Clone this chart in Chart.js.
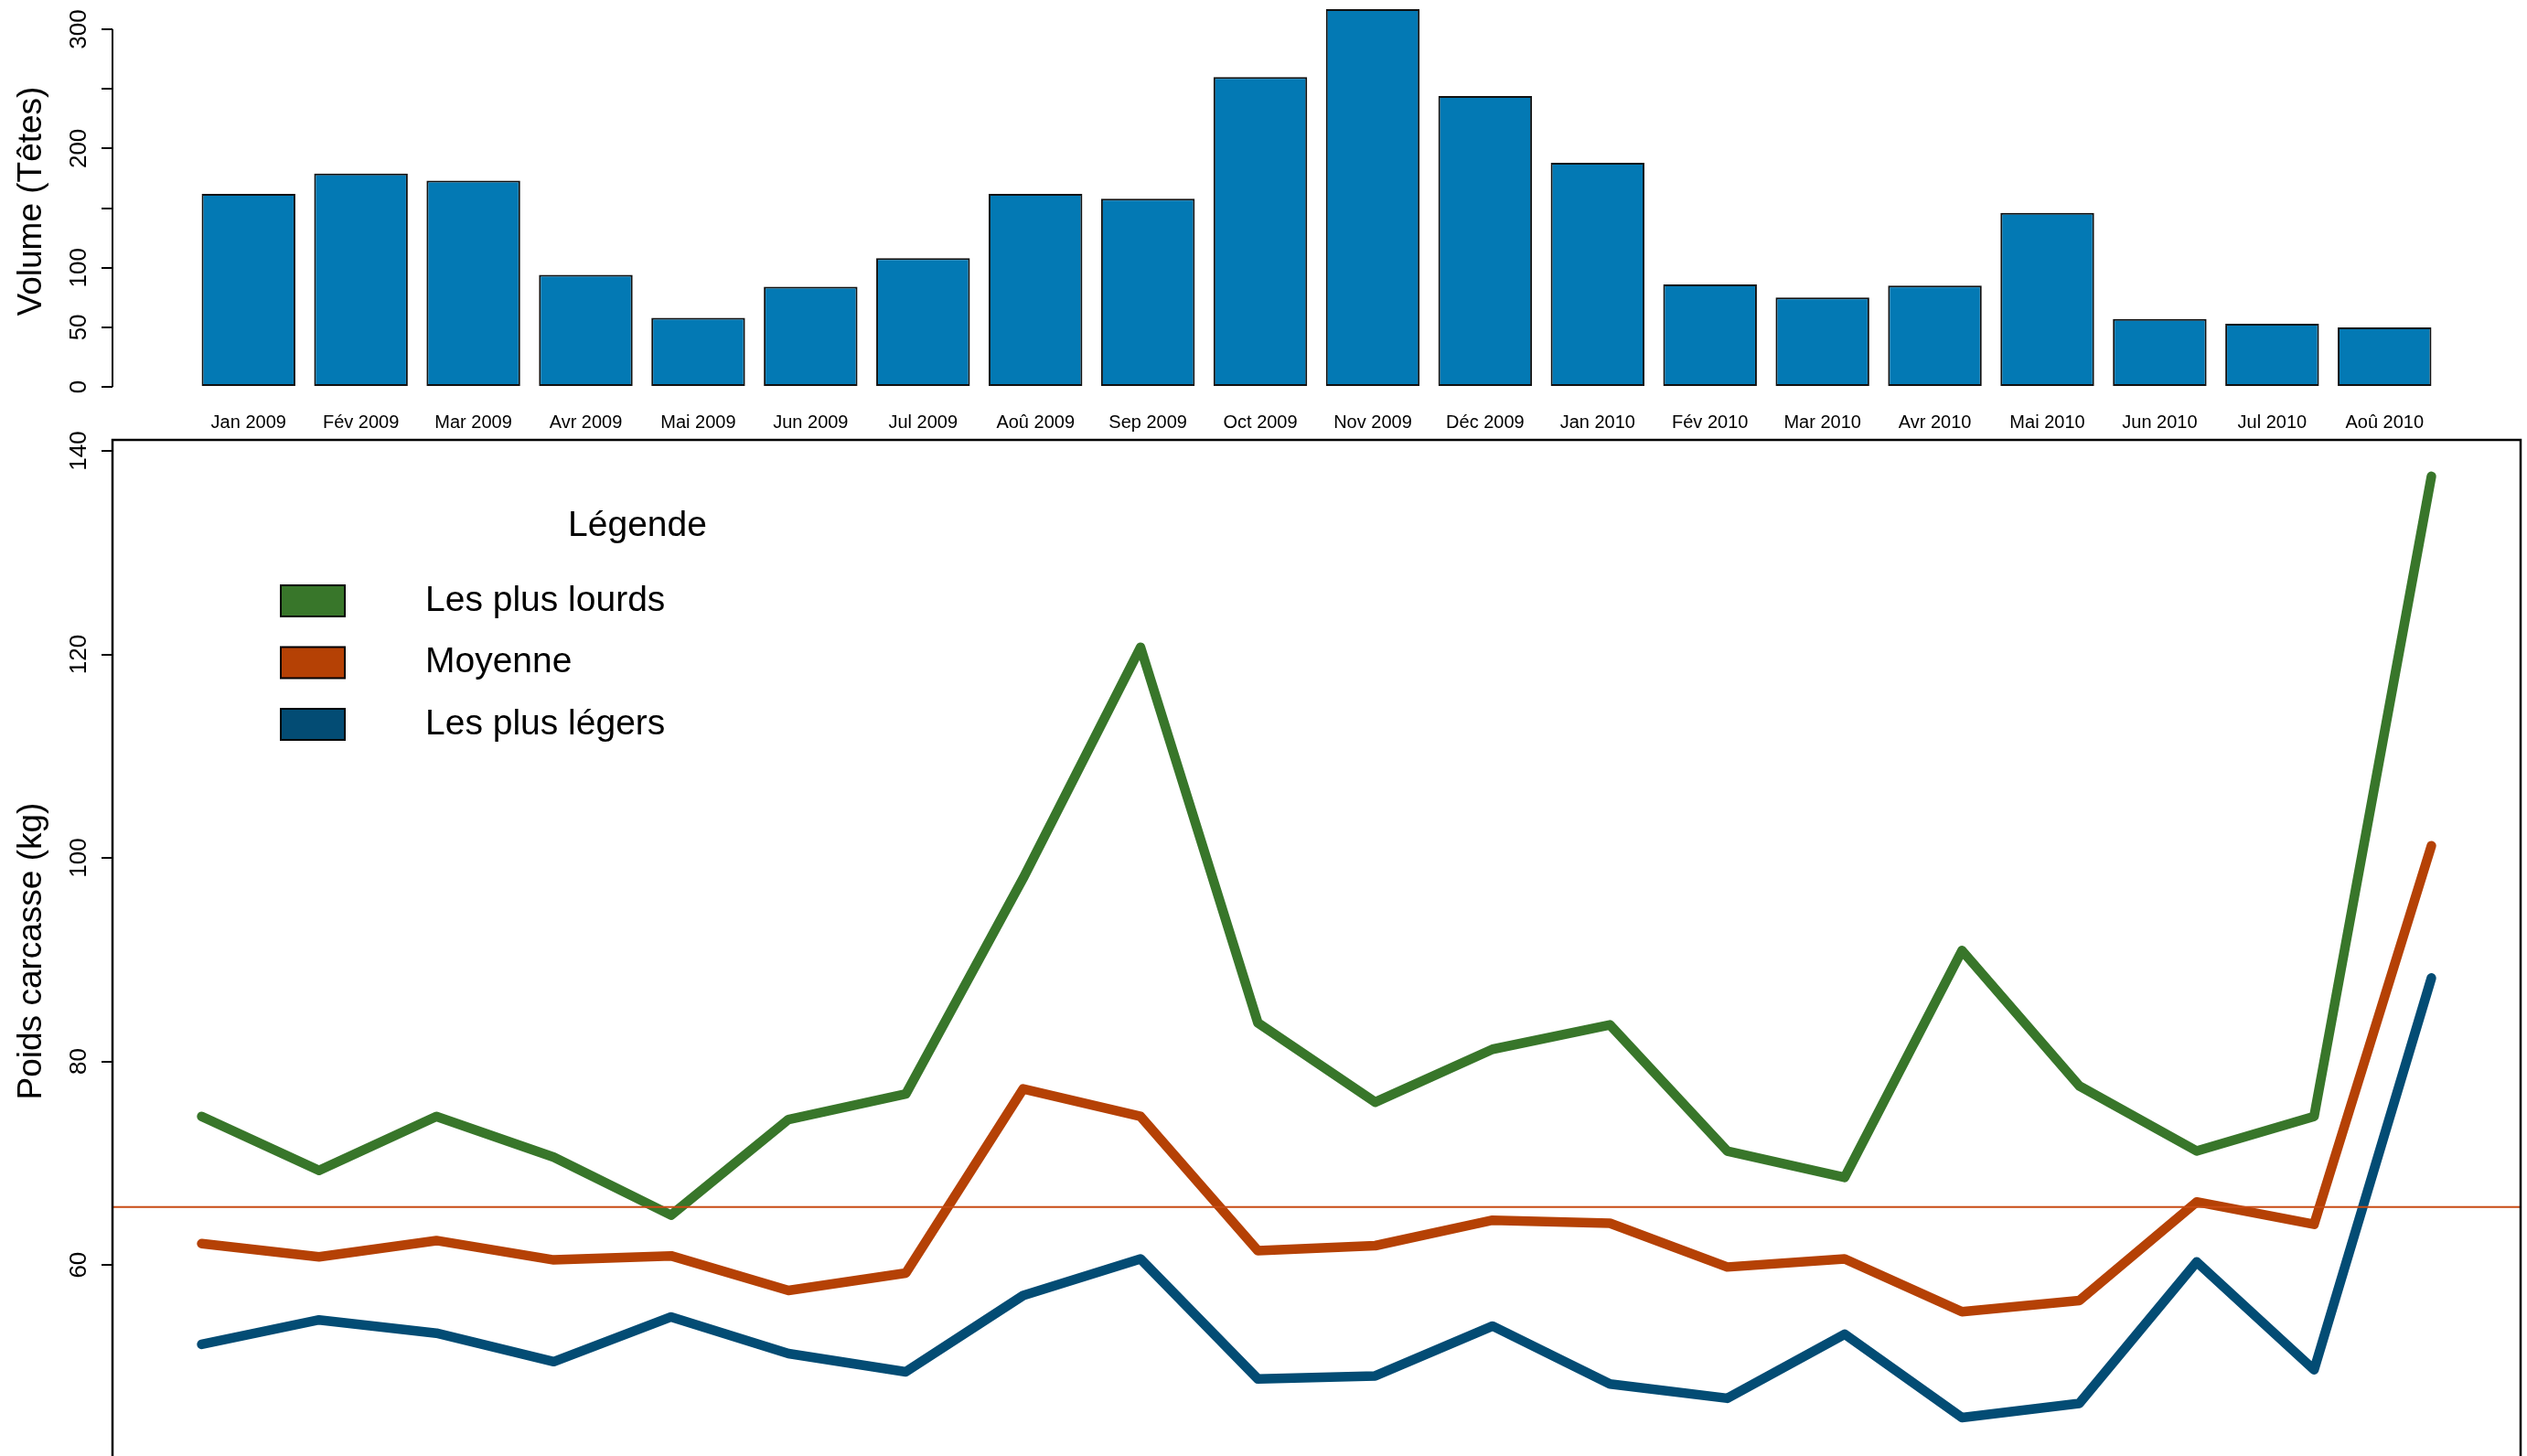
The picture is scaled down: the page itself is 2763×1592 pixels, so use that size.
<!DOCTYPE html>
<html lang="fr">
<head>
<meta charset="utf-8">
<title>Volume et poids carcasse</title>
<script src="https://cdn.jsdelivr.net/npm/chart.js@4.4.1/dist/chart.umd.min.js"></script>
<style>
    html, body { margin: 0; padding: 0; background: #fff; }
    body { width: 2763px; height: 1592px; overflow: hidden; position: relative; }
    canvas { position: absolute; left: 0; }
    #volumeChart { top: 0; }
    #poidsChart { top: 440px; }
</style>
</head>
<body>
<canvas id="volumeChart" width="2763" height="480"></canvas>
<canvas id="poidsChart" width="2763" height="1160"></canvas>
<script>
// Mois (axe commun aux deux graphiques)
const mois = ['Jan 2009', 'Fév 2009', 'Mar 2009', 'Avr 2009', 'Mai 2009', 'Jun 2009', 'Jul 2009',
    'Aoû 2009', 'Sep 2009', 'Oct 2009', 'Nov 2009', 'Déc 2009', 'Jan 2010', 'Fév 2010',
    'Mar 2010', 'Avr 2010', 'Mai 2010', 'Jun 2010', 'Jul 2010', 'Aoû 2010'];

// Volume abattu (têtes)
const volumes = [162, 179, 173, 94, 58, 84, 108, 162, 158, 260, 317, 244, 188, 86, 75, 85, 146, 57, 53, 50];

// Poids carcasse (kg)
const plusLourds = [74.6, 69.3, 74.6, 70.6, 64.9, 74.3, 76.8, 98.0, 120.7, 83.8, 76.0, 81.2, 83.6, 71.2, 68.6, 90.9, 77.6, 71.2, 74.6, 137.5];
const moyenne = [62.1, 60.8, 62.4, 60.5, 60.9, 57.5, 59.2, 77.3, 74.6, 61.4, 61.9, 64.4, 64.1, 59.8, 60.6, 55.4, 56.5, 66.2, 64.0, 101.2];
const plusLegers = [52.2, 54.6, 53.3, 50.5, 54.9, 51.3, 49.5, 57.0, 60.6, 48.8, 49.1, 54.0, 48.3, 46.9, 53.2, 45.0, 46.4, 60.3, 49.7, 88.2];
const ligneReference = 65.7;

// Graduations
const ticksVolume = [0, 50, 100, 150, 200, 250, 300];
const labelsVolume = ['0', '50', '100', '', '200', '', '300'];
const ticksPoids = [60, 80, 100, 120, 140];

const police = '"Liberation Sans", Arial, Helvetica, sans-serif';

// pas de marge automatique autour des axes
function sansMarge(s) {
    s.paddingTop = 0;
    s.paddingBottom = 0;
    s.paddingLeft = 0;
    s.paddingRight = 0;
}

// Ligne de l'axe vertical du diagramme en barres (de 0 à 300 seulement)
const axeVolume = {
    id: 'axeVolume',
    afterDraw(chart) {
        const y = chart.scales.y;
        const ctx = chart.ctx;
        ctx.save();
        ctx.strokeStyle = '#000';
        ctx.lineWidth = 2;
        ctx.beginPath();
        ctx.moveTo(y.right, y.getPixelForValue(ticksVolume[0]));
        ctx.lineTo(y.right, y.getPixelForValue(ticksVolume[ticksVolume.length - 1]));
        ctx.stroke();
        ctx.restore();
    }
};

// Cadre + ligne de référence horizontale
const cadre = {
    id: 'cadre',
    afterDatasetsDraw(chart) {
        const { ctx, chartArea: a, scales: { y } } = chart;
        const yRef = y.getPixelForValue(ligneReference);
        ctx.save();
        ctx.strokeStyle = '#C84B14';
        ctx.lineWidth = 2;
        ctx.beginPath();
        ctx.moveTo(a.left, yRef);
        ctx.lineTo(a.right, yRef);
        ctx.stroke();
        ctx.strokeStyle = '#000';
        ctx.lineWidth = 2.5;
        ctx.strokeRect(a.left, a.top, a.right - a.left, a.bottom - a.top);
        ctx.restore();
    }
};

// Légende dessinée à la manière de R
const legende = {
    id: 'legende',
    afterDraw(chart) {
        const ctx = chart.ctx;
        ctx.save();
        ctx.font = '39px ' + police;
        ctx.fillStyle = '#000';
        ctx.textAlign = 'center';
        ctx.textBaseline = 'middle';
        ctx.fillText('Légende', 697, 135);
        ctx.textAlign = 'left';
        chart.data.datasets.forEach((ds, i) => {
            const cy = 217 + i * 67.5;
            ctx.fillStyle = ds.borderColor;
            ctx.fillRect(307, cy - 17, 70, 34);
            ctx.strokeStyle = '#000';
            ctx.lineWidth = 2;
            ctx.strokeRect(307, cy - 17, 70, 34);
            ctx.fillStyle = '#000';
            ctx.fillText(ds.label, 465, cy);
        });
        ctx.restore();
    }
};

function initVolumeChart() {
    const ctx = document.getElementById('volumeChart').getContext('2d');
    new Chart(ctx, {
        type: 'bar',
        data: {
            datasets: [{
                label: 'Volume (Têtes)',
                data: volumes.map((v, i) => ({ x: i, y: v })),
                backgroundColor: '#0379B4',
                borderColor: '#111',
                borderWidth: 2,
                borderSkipped: false,
                barPercentage: 1 / 1.2,
                categoryPercentage: 1
            }]
        },
        options: {
            responsive: false,
            animation: false,
            layout: { padding: { left: 0, right: 7, top: 0, bottom: 0 } },
            plugins: { legend: { display: false }, tooltip: { enabled: false } },
            scales: {
                x: {
                    type: 'linear',
                    offset: false,
                    min: -1.21,
                    max: 20.21,
                    grid: { display: false, drawTicks: false },
                    border: { display: false },
                    afterBuildTicks: s => { s.ticks = mois.map((m, i) => ({ value: i })); },
                    afterFit: s => { s.height = 40; sansMarge(s); },
                    ticks: {
                        autoSkip: false,
                        maxRotation: 0,
                        padding: 10,
                        color: '#000',
                        font: { size: 20, family: police },
                        callback: v => mois[v]
                    }
                },
                y: {
                    min: -13,
                    max: 324.6,
                    afterBuildTicks: s => { s.ticks = ticksVolume.map(v => ({ value: v })); },
                    afterFit: s => { s.width = 123; sansMarge(s); },
                    grid: { drawOnChartArea: false, drawTicks: true, tickLength: 12, color: '#000', lineWidth: 2 },
                    border: { display: false },
                    ticks: {
                        autoSkip: false,
                        minRotation: 90,
                        maxRotation: 90,
                        crossAlign: 'center',
                        padding: 2,
                        color: '#000',
                        font: { size: 26, family: police },
                        callback: v => labelsVolume[ticksVolume.indexOf(v)]
                    },
                    title: {
                        display: true,
                        text: 'Volume (Têtes)',
                        color: '#000',
                        font: { size: 37, family: police },
                        padding: { top: 13, bottom: 0 }
                    }
                }
            }
        },
        plugins: [axeVolume]
    });
}

function initPoidsChart() {
    const ctx = document.getElementById('poidsChart').getContext('2d');
    const serie = (label, valeurs, couleur) => ({
        label: label,
        data: valeurs.map((v, i) => ({ x: i, y: v })),
        borderColor: couleur,
        backgroundColor: couleur,
        borderWidth: 10.5,
        borderCapStyle: 'round',
        borderJoinStyle: 'round',
        pointRadius: 0,
        tension: 0,
        fill: false
    });
    new Chart(ctx, {
        type: 'line',
        data: {
            datasets: [
                serie('Les plus lourds', plusLourds, '#38762A'),
                serie('Moyenne', moyenne, '#B54105'),
                serie('Les plus légers', plusLegers, '#034C74')
            ]
        },
        options: {
            responsive: false,
            animation: false,
            layout: { padding: { left: 0, right: 7, top: 41, bottom: 1 } },
            plugins: { legend: { display: false }, tooltip: { enabled: false } },
            scales: {
                x: {
                    type: 'linear',
                    min: -0.76,
                    max: 19.76,
                    display: false
                },
                y: {
                    min: 40.6,
                    max: 141.08,
                    afterBuildTicks: s => { s.ticks = ticksPoids.map(v => ({ value: v })); },
                    afterFit: s => { s.width = 123; sansMarge(s); },
                    grid: { drawOnChartArea: false, drawTicks: true, tickLength: 12, color: '#000', lineWidth: 2 },
                    border: { display: false },
                    ticks: {
                        autoSkip: false,
                        minRotation: 90,
                        maxRotation: 90,
                        crossAlign: 'center',
                        padding: 2,
                        color: '#000',
                        font: { size: 26, family: police }
                    },
                    title: {
                        display: true,
                        text: 'Poids carcasse (kg)',
                        color: '#000',
                        font: { size: 37, family: police },
                        padding: { top: 13, bottom: 0 }
                    }
                }
            }
        },
        plugins: [cadre, legende]
    });
}

document.addEventListener('DOMContentLoaded', function() {
    initVolumeChart();
    initPoidsChart();
});
</script>
</body>
</html>
